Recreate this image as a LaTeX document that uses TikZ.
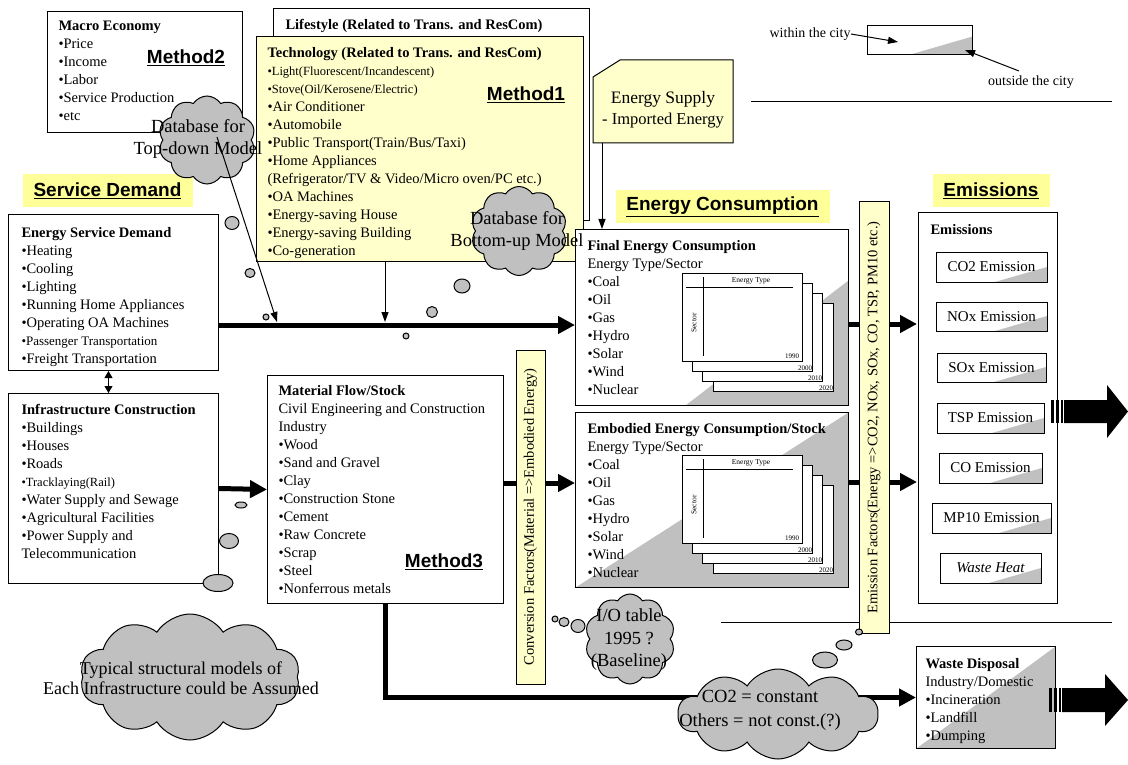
\documentclass[tikz,border=0pt]{standalone}
\usepackage{fontspec}
\setmainfont{Liberation Serif}
\setsansfont{Liberation Sans}
\usetikzlibrary{arrows.meta,shapes.symbols,shapes.geometric}

\definecolor{techyellow}{HTML}{FFFFCC}
\definecolor{hiliteyellow}{HTML}{FFFF99}
\definecolor{cloudgray}{HTML}{C0C0C0}

\newcommand{\itemsmall}{\fontsize{12.5}{18}\selectfont}

\tikzset{
  panel/.style={draw, fill=white, inner sep=0pt, anchor=north west},
  graywedge/.style 2 args={path picture={\fill[cloudgray] ([xshift=-#1]path picture bounding box.south east) -- ([yshift=#2]path picture bounding box.south east) -- (path picture bounding box.south east) -- cycle;}},
  listtext/.style={align=left, anchor=north west, inner sep=0pt, font=\fontsize{14.5}{18}\selectfont},
  legendtext/.style={inner sep=0pt, font=\fontsize{14}{16}\selectfont},
  hilite/.style={fill=hiliteyellow, inner sep=0pt, anchor=north west, font=\sffamily\bfseries\fontsize{19}{22}\selectfont},
  method/.style={inner sep=0pt, font=\sffamily\bfseries\fontsize{19}{22}\selectfont},
  emit/.style={draw, fill=white, inner sep=0pt, font=\fontsize{15}{18}\selectfont, graywedge={52pt}{15pt}},
  sheet/.style={draw, fill=white, inner sep=0pt, anchor=north west, minimum width=120pt, minimum height=88pt},
  year/.style={inner sep=0.5pt, anchor=south east, font=\fontsize{7}{8}\selectfont},
  tiny/.style={inner sep=0pt, font=\fontsize{7.5}{8}\selectfont},
  factor/.style={draw, fill=techyellow, rotate=90, inner sep=0pt, font=\fontsize{14.5}{18}\selectfont},
  puff/.style={cloud, cloud puffs=10, cloud puff arc=115, cloud ignores aspect, draw, fill=cloudgray, inner sep=0pt},
  bubble/.style={ellipse, draw, fill=cloudgray, inner sep=0pt},
  thought/.style={align=center, inner sep=0pt, font=\fontsize{18.5}{22.5}\selectfont},
  bigflow/.style={line width=5pt, -{Triangle[length=17pt,width=17pt]}},
  link/.style={-{Triangle[length=10pt,width=7pt]}},
  twoway/.style={{Triangle[length=7pt,width=8pt]}-{Triangle[length=7pt,width=8pt]}},
}

\begin{document}
\begin{tikzpicture}[x=1pt, y=-1pt, line width=1pt]
\useasboundingbox (0,0) rectangle (1128,765);

% border lines of the city
\draw (751,102) -- (1112,102);
\draw (721,622) -- (1112,622);

% legend
\node[panel, minimum width=105pt, minimum height=29pt, graywedge={62pt}{18pt}] (legend) at (867,25) {};
\node[legendtext, anchor=east] (within) at (851,34) {within the city};
\node[legendtext] (outside) at (1031,82) {outside the city};
\coordinate (legendin) at (898,42);
\coordinate (legendout) at (965,50);
\coordinate (outsideroot) at (1019,71);
\draw[link] (within.east) -- (legendin);
\draw[link] (outsideroot) -- (legendout);

% lifestyle and technology
\node[panel, minimum width=316pt, minimum height=212pt] (lifestyle) at (273,8) {};
\node[listtext] (lifestyletext) at (285,19) {\textbf{Lifestyle (Related to Trans. and ResCom)}};
\node[panel, fill=techyellow, minimum width=327pt, minimum height=225pt] (tech) at (256,36) {};
\node[listtext] (techtext) at (267,47) {\textbf{Technology (Related to Trans. and ResCom)}\\
  {\itemsmall •Light(Fluorescent/Incandescent)}\\
  {\itemsmall •Stove(Oil/Kerosene/Electric)}\\
  •Air Conditioner\\
  •Automobile\\
  •Public Transport(Train/Bus/Taxi)\\
  •Home Appliances\\
  (Refrigerator/TV \& Video/Micro oven/PC etc.)\\
  •OA Machines\\
  •Energy-saving House\\
  •Energy-saving Building\\
  •Co-generation};
\node[method] (methodone) at (526,95) {\underline{Method1}};

% energy supply
\draw[fill=techyellow] (593,77) -- (620,60) -- (733,60) -- (733,143) -- (593,143) -- cycle;
\node[align=center, inner sep=0pt, font=\fontsize{17.5}{21}\selectfont] (supply) at (663,110) {Energy Supply\\{\fontsize{16.5}{21}\selectfont - Imported Energy}};
\coordinate (supplyfoot) at (602,143);

% macro economy
\node[panel, minimum width=195pt, minimum height=121pt] (macro) at (47,11) {};
\node[listtext] (macrotext) at (58,21) {\textbf{Macro Economy}\\•Price\\•Income\\•Labor\\•Service Production\\•etc};
\node[method] (methodtwo) at (186,58) {\underline{Method2}};

% section headers
\node[hilite, minimum width=170pt, minimum height=33pt] (demandhead) at (22,174) {\underline{Service Demand}};
\node[hilite, minimum width=214pt, minimum height=32pt] (consumptionhead) at (615,190) {\underline{Energy Consumption}};
\node[hilite, minimum width=117pt, minimum height=33pt] (emissionhead) at (932,174) {\underline{Emissions}};

% service demand side
\node[panel, minimum width=210pt, minimum height=156pt] (esd) at (8,214) {};
\node[listtext] (esdtext) at (21,227) {\textbf{Energy Service Demand}\\•Heating\\•Cooling\\•Lighting\\•Running Home Appliances\\•Operating OA Machines\\{\fontsize{13}{18}\selectfont •Passenger Transportation}\\•Freight Transportation};
\node[panel, minimum width=210pt, minimum height=190pt] (infra) at (8,393) {};
\node[listtext] (infratext) at (21,404) {\textbf{Infrastructure Construction}\\•Buildings\\•Houses\\•Roads\\{\itemsmall •Tracklaying(Rail)}\\•Water Supply and Sewage\\•Agricultural Facilities\\•Power Supply and\\Telecommunication};
\node[panel, minimum width=236pt, minimum height=228pt] (matflow) at (267,375) {};
\node[listtext] (matflowtext) at (278,385) {\textbf{Material Flow/Stock}\\Civil Engineering and Construction\\Industry\\•Wood\\•Sand and Gravel\\•Clay\\•Construction Stone\\•Cement\\•Raw Concrete\\•Scrap\\•Steel\\•Nonferrous metals};
\node[method] (methodthree) at (444,562) {\underline{Method3}};

% final energy consumption
\node[panel, minimum width=273pt, minimum height=176pt, graywedge={163pt}{125pt}] (fec) at (575,229) {};
\node[sheet] (fecsheetd) at (713,303) {};
\node[sheet] (fecsheetc) at (702,293) {};
\node[sheet] (fecsheetb) at (692,283) {};
\node[sheet] (fecsheeta) at (682,273) {};
\draw ([shift={(4,14)}]fecsheeta.north west) -- ([shift={(111,14)}]fecsheeta.north west);
\draw ([shift={(21,4)}]fecsheeta.north west) -- ([shift={(21,83)}]fecsheeta.north west);
\node[tiny] (fectype) at ([shift={(69,8)}]fecsheeta.north west) {Energy Type};
\node[tiny, rotate=90] (fecsector) at ([shift={(12,50)}]fecsheeta.north west) {Sector};
\node[year] (fecyeara) at ([shift={(-3,-2)}]fecsheeta.south east) {1990};
\node[year] (fecyearb) at (fecsheetb.south east) {2000};
\node[year] (fecyearc) at (fecsheetc.south east) {2010};
\node[year] (fecyeard) at (fecsheetd.south east) {2020};
\node[listtext] (fectext) at (587,240) {\textbf{Final Energy Consumption}\\Energy Type/Sector\\•Coal\\•Oil\\•Gas\\•Hydro\\•Solar\\•Wind\\•Nuclear};

% embodied energy consumption
\node[panel, minimum width=273pt, minimum height=175pt, graywedge={273pt}{175pt}] (eec) at (575,412) {};
\node[sheet] (eecsheetd) at (713,485) {};
\node[sheet] (eecsheetc) at (702,475) {};
\node[sheet] (eecsheetb) at (692,465) {};
\node[sheet] (eecsheeta) at (682,455) {};
\draw ([shift={(4,14)}]eecsheeta.north west) -- ([shift={(111,14)}]eecsheeta.north west);
\draw ([shift={(21,4)}]eecsheeta.north west) -- ([shift={(21,83)}]eecsheeta.north west);
\node[tiny] (eectype) at ([shift={(69,8)}]eecsheeta.north west) {Energy Type};
\node[tiny, rotate=90] (eecsector) at ([shift={(12,50)}]eecsheeta.north west) {Sector};
\node[year] (eecyeara) at ([shift={(-3,-2)}]eecsheeta.south east) {1990};
\node[year] (eecyearb) at (eecsheetb.south east) {2000};
\node[year] (eecyearc) at (eecsheetc.south east) {2010};
\node[year] (eecyeard) at (eecsheetd.south east) {2020};
\node[listtext] (eectext) at (587,423) {\textbf{Embodied Energy Consumption/Stock}\\Energy Type/Sector\\•Coal\\•Oil\\•Gas\\•Hydro\\•Solar\\•Wind\\•Nuclear};

% emissions
\node[panel, minimum width=139pt, minimum height=391pt] (emissions) at (918,212) {};
\node[listtext] (emissionstext) at (930,224) {\textbf{Emissions}};
\node[emit, minimum width=111pt, minimum height=30pt] (cotwo) at (991.5,267) {CO2 Emission};
\node[emit, minimum width=111pt, minimum height=29pt] (nox) at (991.5,316.5) {NOx Emission};
\node[emit, minimum width=109pt, minimum height=29pt] (sox) at (991.5,367.5) {SOx Emission};
\node[emit, minimum width=107pt, minimum height=30pt] (tsp) at (990.5,418) {TSP Emission};
\node[emit, minimum width=103pt, minimum height=30pt] (co) at (990.5,468) {CO Emission};
\node[emit, minimum width=119pt, minimum height=30pt] (mpten) at (991.5,518) {MP10 Emission};
\node[emit, minimum width=101pt, minimum height=30pt] (wasteheat) at (990.5,568) {\textit{Waste Heat}};

% waste disposal
\node[panel, minimum width=139pt, minimum height=102pt, graywedge={139pt}{102pt}] (waste) at (916,646) {};
\node[listtext] (wastetext) at (925,658) {\textbf{Waste Disposal}\\Industry/Domestic\\•Incineration\\•Landfill\\•Dumping};

% flows
\coordinate (demandout) at (218,325);
\coordinate (consumein) at (575,325);
\coordinate (tdhit) at (277,322);
\coordinate (techfoot) at (385,261);
\coordinate (techhit) at (385,322);
\coordinate (matout) at (503,483);
\coordinate (embodiedin) at (575,483);
\coordinate (fecout) at (848,324);
\coordinate (fecemit) at (917,324);
\coordinate (eecout) at (848,482);
\coordinate (eecemit) at (917,482);
\coordinate (matfoot) at (385,603);
\draw[bigflow] (demandout) -- (consumein);
\draw[link] (techfoot) -- (techhit);
\draw[link] (supplyfoot) -- (supplyfoot |- fec.north);
\draw[twoway] ([xshift=-5pt]esd.south) -- ([xshift=-5pt]infra.north);
\draw[bigflow] (infra.east) -- (matflow.west);
\draw[bigflow] (matout) -- (embodiedin);
\draw[bigflow] (fecout) -- (fecemit);
\draw[bigflow] (eecout) -- (eecemit);
\draw[bigflow] (matfoot) |- (waste.west);

% conversion factors
\node[factor, minimum width=334pt, minimum height=29pt] (convfactor) at (530.5,517) {Conversion Factors(Material =>Embodied Energy)};
\node[factor, minimum width=431pt, minimum height=30pt] (emitfactor) at (874,417.5) {Emission Factors(Energy =>CO2, NOx, SOx, CO, TSP, PM10 etc.)};

% outlets
\fill (1051,400) rectangle (1054,423);
\fill (1056,400) rectangle (1059,423);
\fill (1061,400) rectangle (1063,423);
\fill (1064,400) -- (1107,400) -- (1107,385) -- (1128,411.5) -- (1107,438) -- (1107,423) -- (1064,423) -- cycle;
\fill (1049,688) rectangle (1052,712);
\fill (1054,688) rectangle (1057,712);
\fill (1059,688) rectangle (1061,712);
\fill (1062,688) -- (1105,688) -- (1105,674) -- (1128,700) -- (1105,726) -- (1105,712) -- (1062,712) -- cycle;

% thought bubbles
\node[bubble, minimum width=14pt, minimum height=13pt] (tdbubblea) at (232,223) {};
\node[bubble, minimum width=10pt, minimum height=9pt] (tdbubbleb) at (250,273) {};
\node[bubble, minimum width=6pt, minimum height=6pt] (tdbubblec) at (266,317) {};
\node[bubble, minimum width=16pt, minimum height=14pt] (bubuppera) at (462,286) {};
\node[bubble, minimum width=11pt, minimum height=11pt] (bubupperb) at (432,312) {};
\node[bubble, minimum width=6pt, minimum height=6pt] (bubupperc) at (406,336) {};
\node[bubble, minimum width=12pt, minimum height=6pt] (infrabubblea) at (241,505) {};
\node[bubble, minimum width=19pt, minimum height=15pt] (infrabubbleb) at (229,541) {};
\node[bubble, minimum width=30pt, minimum height=17pt] (infrabubblec) at (218,583) {};
\node[bubble, minimum width=6pt, minimum height=6pt] (iobubblea) at (555,619) {};
\node[bubble, minimum width=10pt, minimum height=9pt] (iobubbleb) at (564,622) {};
\node[bubble, minimum width=14pt, minimum height=13pt] (iobubblec) at (578,626) {};
\node[bubble, minimum width=7pt, minimum height=6pt] (cobubblea) at (859,632) {};
\node[bubble, minimum width=16pt, minimum height=10pt] (cobubbleb) at (844,645) {};
\node[bubble, minimum width=25pt, minimum height=16pt] (cobubblec) at (825,660) {};

\node[puff, minimum width=97pt, minimum height=88pt] (topdown) at (207,140) {};
\node[puff, minimum width=96pt, minimum height=89pt] (bottomup) at (519,231) {};
\node[puff, minimum width=220pt, minimum height=126pt] (typical) at (190,677) {};
\node[puff, minimum width=90pt, minimum height=90pt] (iotable) at (630,639) {};
\node[puff, minimum width=200pt, minimum height=90pt] (constant) at (778,714) {};

\coordinate (tdroot) at (217,137);
\draw[link] (tdroot) -- (tdhit);

\node[thought] (topdowntext) at (198,139) {Database for\\Top-down Model};
\node[thought] (bottomuptext) at (517,231) {Database for\\Bottom-up Model};
\node[thought, font=\fontsize{18}{20.5}\selectfont] (typicaltext) at (181,678) {Typical structural models of\\Each Infrastructure could be Assumed};
\node[thought] (iotabletext) at (629,640) {I/O table\\1995 ?\\(Baseline)};
\node[thought, font=\fontsize{18.5}{24}\selectfont] (constanttext) at (760,710) {CO2 = constant\\Others = not const.(?)};
\end{tikzpicture}
\end{document}
